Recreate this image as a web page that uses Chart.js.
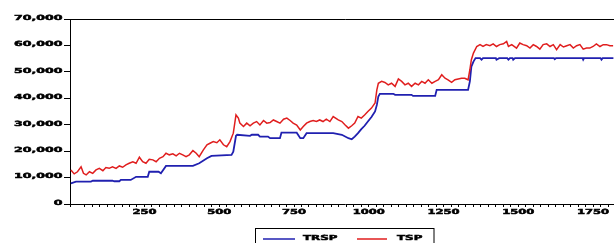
<!DOCTYPE html>
<html>
<head>
<meta charset="utf-8">
<title>TRSP / TSP</title>
<script src="https://cdn.jsdelivr.net/npm/chart.js@4/dist/chart.umd.min.js"></script>
<style>
    html, body { margin: 0; padding: 0; overflow: hidden; background: #fff; }
    #chart { display: block; }
</style>
</head>
<body>
<canvas id="chart" width="622" height="252"></canvas>
<script>
// ================= DATA =================
const trspObs = [4, 21, 71, 77, 143, 149, 166, 171, 204, 222, 261, 266, 297, 305, 322, 412, 433,
    459, 474, 541, 547, 556, 560, 603, 609, 630, 636, 663, 670, 703, 708, 759, 771, 781, 792, 881,
    910, 932, 943, 953, 964, 975, 986, 997, 1009, 1021, 1027, 1032, 1037, 1082, 1088, 1143, 1148,
    1222, 1227, 1332, 1338, 1343, 1350, 1357, 1372, 1377, 1382, 1425, 1427, 1436, 1463, 1467, 1472,
    1481, 1483, 1489, 1619, 1622, 1626, 1715, 1717, 1720, 1775, 1778, 1782, 1818];
const trspVals = [7800, 8500, 8500, 8800, 8800, 8600, 8600, 9100, 9100, 10300, 10300, 12200, 12200, 11600, 14400, 14400, 15400,
    17300, 18200, 18600, 19800, 25800, 26200, 25800, 26200, 26200, 25500, 25500, 24900, 24900, 27000, 27000, 24900, 24900, 26800, 26800,
    26200, 24900, 24500, 25500, 26800, 28300, 29600, 31200, 32900, 35000, 37500, 40700, 41700, 41700, 41300, 41300, 40900,
    40900, 43200, 43200, 46400, 52000, 53900, 55200, 55200, 54600, 55200, 55200, 54600, 55200, 55200, 54600, 55200,
    55200, 54600, 55200, 55200, 54800, 55200, 55200, 54600, 55200, 55200, 54600, 55200, 55200];

const tspObs = [4, 15, 26, 38, 46, 55, 66, 77, 88, 99, 111, 121, 132, 143, 155, 166, 177, 188, 199, 211,
    222, 233, 244, 255, 266, 278, 289, 300, 312, 322, 333, 345, 356, 367, 378, 389, 400, 412, 423, 433,
    447, 459, 469, 480, 492, 502, 514, 525, 536, 547, 556, 564, 569, 581, 592, 603, 614, 625, 636, 648,
    659, 670, 681, 692, 703, 715, 726, 737, 747, 759, 771, 781, 792, 803, 814, 825, 836, 847, 858, 870,
    881, 898, 910, 921, 932, 943, 953, 964, 975, 986, 997, 1009, 1021, 1027, 1032, 1043, 1054, 1065, 1076, 1088,
    1099, 1110, 1121, 1132, 1143, 1155, 1166, 1177, 1188, 1199, 1211, 1222, 1233, 1244, 1255, 1265, 1277, 1288, 1299, 1310,
    1321, 1332, 1338, 1343, 1350, 1361, 1372, 1382, 1393, 1405, 1416, 1427, 1438, 1450, 1461, 1467, 1478, 1494, 1505, 1516,
    1528, 1539, 1550, 1561, 1572, 1583, 1595, 1606, 1617, 1628, 1640, 1651, 1662, 1673, 1684, 1695, 1706, 1717, 1728, 1739,
    1750, 1761, 1773, 1784, 1795, 1806, 1817];
const tspVals = [12900, 11400, 12200, 14100, 11600, 11000, 12200, 11600, 12900, 13500, 12600, 13800, 13500, 14100, 13500, 14400, 13900, 14800, 15400, 16000,
    15400, 17700, 16000, 15400, 16900, 16700, 16000, 17300, 17900, 19200, 18600, 19000, 18200, 19200, 18600, 17900, 18600, 20200, 19200, 17900,
    20500, 22400, 23000, 23600, 23200, 24300, 22400, 21700, 23600, 26800, 33700, 32500, 30600, 29300, 30600, 29600, 30600, 31200, 29900, 31600,
    30600, 30800, 31800, 31200, 30600, 32100, 32500, 31600, 30600, 29900, 28000, 29300, 30600, 31200, 31600, 31200, 31800, 31200, 32100, 31200,
    33100, 31800, 31200, 29900, 28700, 29600, 30600, 33100, 32500, 33700, 35000, 36300, 38200, 43200, 45700, 46400, 46000, 45100, 45700, 44500,
    47300, 46400, 45100, 45700, 44500, 45700, 45100, 46400, 45700, 47000, 45700, 46400, 47000, 48900, 47600, 47000, 46000, 47000, 47300, 47600,
    47600, 47000, 50800, 54600, 57100, 59600, 60300, 59600, 60300, 59900, 60600, 59600, 60300, 60600, 61500, 59600, 60300, 59000, 60900, 60300,
    59900, 59000, 60300, 59600, 58600, 60300, 60600, 59600, 60300, 58400, 60300, 59400, 59900, 60300, 59000, 59900, 60300, 58600, 59000, 59000,
    59600, 60600, 59600, 60300, 60300, 59900, 59900];

const xMin = 1, xMax = 1840, xMinorStep = 25, xLabelStep = 250;
const yMin = 0, yMax = 70000, yStep = 10000;

// ================= HELPERS =================
const LABEL_FONT = 'bold 7px "DejaVu Sans"';

function toPoints(xs, ys) {
    return xs.map((x, i) => ({ x: x, y: ys[i] }));
}

// the reference text is stretched wide and heavy, so draw it scaled horizontally + outlined
function wideText(ctx, text, x, y, sx) {
    ctx.save();
    ctx.translate(x, y);
    ctx.scale(sx, 1);
    ctx.lineWidth = 0.5;
    ctx.strokeStyle = ctx.fillStyle;
    ctx.strokeText(text, 0, 0);
    ctx.fillText(text, 0, 0);
    ctx.restore();
}

// ================= LABELS / FRAME / LEGEND =================
const frameAndLabels = {
    id: "frameAndLabels",
    afterDraw(chart) {
        const { ctx, chartArea, scales } = chart;
        const xs = scales.x, ys = scales.y;

        ctx.save();
        ctx.fillStyle = "#000";
        ctx.strokeStyle = "#000";
        ctx.font = LABEL_FONT;

        // top + right frame
        ctx.lineWidth = 1;
        ctx.beginPath();
        ctx.moveTo(chartArea.left, chartArea.top + 0.5);
        ctx.lineTo(chartArea.right + 0.5, chartArea.top + 0.5);
        ctx.lineTo(chartArea.right + 0.5, chartArea.bottom);
        ctx.stroke();

        // y tick labels
        ctx.textAlign = "right";
        ctx.textBaseline = "middle";
        ys.ticks.forEach(t => {
            const py = ys.getPixelForValue(t.value);
            wideText(ctx, t.value.toLocaleString("en-US"), chartArea.left - 7.5, py - 1, 1.8);
        });

        // x tick labels, only every 250
        ctx.textAlign = "center";
        xs.ticks.forEach(t => {
            if (t.value > 0 && t.value % xLabelStep === 0) {
                const px = xs.getPixelForValue(t.value);
                wideText(ctx, String(t.value), px, chartArea.bottom + 8.5, 1.65);
            }
        });

        // legend box
        const cx = (chartArea.left + chartArea.right) / 2;
        const ly = chartArea.bottom + 35;
        ctx.lineWidth = 1;
        ctx.strokeStyle = "#000";
        ctx.strokeRect(cx - 89.5, chartArea.bottom + 24.5, 178.5, 40);

        const items = [
            { ds: chart.data.datasets[0], x0: cx - 82, x1: cx - 50, tx: cx - 42 },
            { ds: chart.data.datasets[1], x0: cx + 12, x1: cx + 42, tx: cx + 52 }
        ];
        items.forEach(it => {
            ctx.strokeStyle = it.ds.borderColor;
            ctx.lineWidth = 1.5;
            ctx.beginPath();
            ctx.moveTo(it.x0, ly);
            ctx.lineTo(it.x1, ly);
            ctx.stroke();
            ctx.textAlign = "left";
            ctx.textBaseline = "middle";
            wideText(ctx, it.ds.label, it.tx, ly - 0.5, 1.7);
        });

        ctx.restore();
    }
};

// ================= CHART =================
const ctx = document.getElementById("chart").getContext("2d");
new Chart(ctx, {
    type: "line",
    data: {
        datasets: [
            {
                label: "TRSP",
                data: toPoints(trspObs, trspVals),
                borderColor: "#2020b0",
                borderWidth: 1.8,
                pointRadius: 0,
                tension: 0,
                order: 1
            },
            {
                label: "TSP",
                data: toPoints(tspObs, tspVals),
                borderColor: "#e01e1e",
                borderWidth: 1.5,
                pointRadius: 0,
                tension: 0,
                order: 0
            }
        ]
    },
    options: {
        responsive: false,
        animation: false,
        parsing: false,
        layout: { padding: { top: 19, right: 2, left: 0, bottom: 0 } },
        plugins: {
            legend: { display: false },
            tooltip: { enabled: false }
        },
        scales: {
            x: {
                type: "linear",
                min: xMin,
                max: xMax,
                ticks: { display: false, stepSize: xMinorStep, autoSkip: false },
                grid: { drawOnChartArea: false, drawTicks: true, tickLength: 3, color: "#000" },
                border: { display: true, color: "#000", width: 1 },
                afterFit: (scale) => { scale.height = 48; }
            },
            y: {
                min: yMin,
                max: yMax,
                ticks: { display: false, stepSize: yStep },
                grid: { drawOnChartArea: false, drawTicks: true, tickLength: 6, color: "#000" },
                border: { display: true, color: "#000", width: 1 },
                afterFit: (scale) => { scale.width = 70; }
            }
        }
    },
    plugins: [frameAndLabels]
});
</script>
</body>
</html>
